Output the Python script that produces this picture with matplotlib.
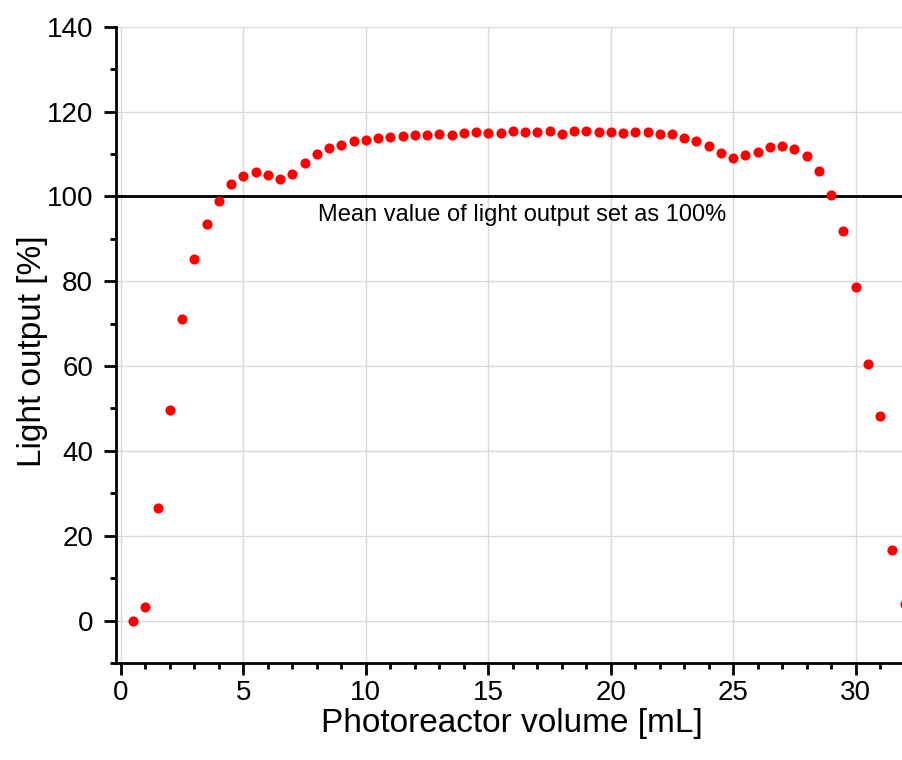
import matplotlib
matplotlib.use("Agg")
import matplotlib.pyplot as plt
from matplotlib.ticker import MultipleLocator

plt.rcParams['font.family'] = ['Liberation Sans', 'DejaVu Sans']

# Photoreactor volume [mL]
volume = [0.5, 1.0, 1.5, 2.0, 2.5, 3.0, 3.5, 4.0, 4.5, 5.0,
          5.5, 6.0, 6.5, 7.0, 7.5, 8.0, 8.5, 9.0, 9.5, 10.0,
          10.5, 11.0, 11.5, 12.0, 12.5, 13.0, 13.5, 14.0, 14.5, 15.0,
          15.5, 16.0, 16.5, 17.0, 17.5, 18.0, 18.5, 19.0, 19.5, 20.0,
          20.5, 21.0, 21.5, 22.0, 22.5, 23.0, 23.5, 24.0, 24.5, 25.0,
          25.5, 26.0, 26.5, 27.0, 27.5, 28.0, 28.5, 29.0, 29.5, 30.0,
          30.5, 31.0, 31.5, 32.0]

# Light output [%]
light = [0.0, 3.3, 26.5, 49.7, 71.0, 85.3, 93.6, 99.0, 103.0, 104.9,
         105.8, 105.0, 104.0, 105.2, 107.9, 109.9, 111.4, 112.1, 113.0, 113.3,
         113.8, 113.9, 114.2, 114.4, 114.5, 114.7, 114.5, 115.0, 115.2, 115.0,
         114.9, 115.4, 115.1, 115.2, 115.4, 114.8, 115.4, 115.3, 115.2, 115.2,
         115.0, 115.1, 115.1, 114.7, 114.6, 113.7, 113.1, 111.9, 110.2, 109.1,
         109.7, 110.5, 111.7, 111.9, 111.1, 109.5, 106.1, 100.4, 91.9, 78.7,
         60.6, 48.2, 16.7, 3.9]

mean_level = 100
note = "Mean value of light output set as 100%"

fig = plt.figure(figsize=(9.02, 7.60), dpi=100)
ax = fig.add_axes([116 / 902, 1 - 663 / 760, (902 - 116) / 902, (663 - 26.7) / 760])

ax.plot(volume, light, 'o', color='#ff0000', markersize=7.3,
        markeredgewidth=0, zorder=3)
ax.axhline(mean_level, color='black', linewidth=2, zorder=2)
ax.text(8.05, 94.3, note, fontsize=17, va='baseline', ha='left')

ax.set_xlim(-0.2, 31.89)
ax.set_ylim(-10, 140)
ax.xaxis.set_major_locator(MultipleLocator(5))
ax.xaxis.set_minor_locator(MultipleLocator(1))
ax.yaxis.set_major_locator(MultipleLocator(20))
ax.yaxis.set_minor_locator(MultipleLocator(10))

ax.grid(which='major', color='#d9d9d9', linewidth=1.0, zorder=0)
ax.set_axisbelow(True)

for side in ('top', 'right'):
    ax.spines[side].set_visible(False)
for side in ('left', 'bottom'):
    ax.spines[side].set_linewidth(2)

ax.tick_params(which='major', direction='out', length=8.5, width=2,
               labelsize=20)
ax.tick_params(which='minor', direction='out', length=4.5, width=2)
ax.tick_params(axis='x', which='major', pad=4)
ax.tick_params(axis='y', which='major', pad=8)

ax.set_xlabel('Photoreactor volume [mL]', fontsize=24)
ax.set_ylabel('Light output [%]', fontsize=24)
ax.xaxis.set_label_coords(0.504, -0.071)
ax.yaxis.set_label_coords(-0.087, 0.49)

fig.savefig('out.png', dpi=100)
